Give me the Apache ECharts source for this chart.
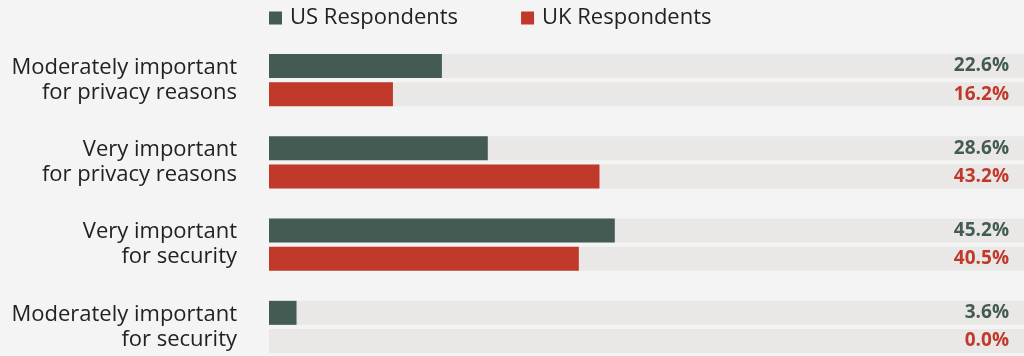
<!DOCTYPE html>
<html>
<head>
<meta charset="utf-8">
<script src="https://cdn.jsdelivr.net/npm/echarts@6/dist/echarts.min.js"></script>
<style>
  html, body { margin: 0; padding: 0; background: #f4f4f4; }
  #chart { width: 1024px; height: 356px; }
</style>
</head>
<body>
<div id="chart"></div>
<script>
// Importance ratings by respondent group (percent)
const categories = [
  'Moderately important\nfor privacy reasons',
  'Very important\nfor privacy reasons',
  'Very important\nfor security',
  'Moderately important\nfor security'
];
const usValues = [22.6, 28.6, 45.2, 3.6];
const ukValues = [16.2, 43.2, 40.5, 0.0];
const seriesNames = ['US Respondents', 'UK Respondents'];
const colors = ['#435b52', '#c0392b'];

const chart = echarts.init(document.getElementById('chart'));
const FONT = '"Open Sans", "Noto Sans", sans-serif';

function barSeries(name, values, color) {
  return {
    name: name,
    type: 'bar',
    data: values,
    barWidth: 24,
    barGap: '17%',
    itemStyle: { color: color },
    showBackground: true,
    backgroundStyle: { color: '#e9e8e6' },
    label: {
      show: true,
      position: 'right',
      formatter: p => p.value.toFixed(1) + '%',
      color: color,
      fontFamily: FONT,
      fontWeight: 'bold',
      fontSize: 19
    },
    // value labels sit in a right-aligned column at the end of the track
    labelLayout: p => ({
      x: 1009,
      y: p.rect.y + p.rect.height / 2,
      align: 'right',
      verticalAlign: 'middle'
    }),
    animation: false
  };
}

chart.setOption({
  backgroundColor: '#f4f4f4',
  legend: {
    top: 2,
    left: 264,
    itemWidth: 13,
    itemHeight: 13,
    itemGap: 63,
    icon: 'rect',
    textStyle: { fontFamily: FONT, fontSize: 22, color: '#222', padding: [0, 0, 0, 3] },
    data: seriesNames
  },
  grid: {
    left: 269, right: -10, top: 39, bottom: -12,
    outerBoundsMode: 'none'
  },
  xAxis: {
    type: 'value',
    min: 0,
    max: 100,
    show: false
  },
  yAxis: {
    type: 'category',
    inverse: true,
    data: categories,
    axisLine: { show: false },
    axisTick: { show: false },
    axisLabel: {
      margin: 32,
      align: 'right',
      fontFamily: FONT,
      fontSize: 22,
      lineHeight: 25,
      color: '#222'
    }
  },
  series: [
    barSeries(seriesNames[0], usValues, colors[0]),
    barSeries(seriesNames[1], ukValues, colors[1])
  ]
});
</script>
</body>
</html>
